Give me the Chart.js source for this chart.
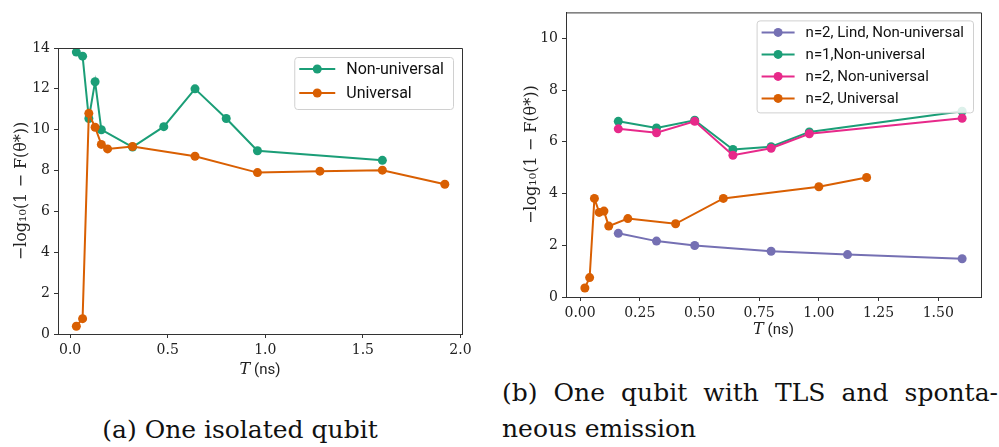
<!DOCTYPE html>
<html>
<head>
<meta charset="utf-8">
<script src="https://cdn.jsdelivr.net/npm/chart.js@4"></script>
<style>
  html,body{margin:0;padding:0;background:#fff;}
  body{width:999px;height:447px;position:relative;overflow:hidden;}
  canvas{position:absolute;}
  .cap{position:absolute;font-family:"DejaVu Serif","Liberation Serif",serif;font-size:25px;color:#111;line-height:36px;white-space:nowrap;}
  #capA{left:0;width:480px;top:412px;text-align:center;}
  #capB1{left:502px;width:496px;top:375px;text-align:justify;text-align-last:justify;}
  #capB2{left:502px;top:411px;}
</style>
</head>
<body>
<canvas id="chartA" width="490" height="380" style="left:0;top:0"></canvas>
<canvas id="chartB" width="499" height="340" style="left:500px;top:0"></canvas>
<div class="cap" id="capA">(a) One isolated qubit</div>
<div class="cap" id="capB1">(b) One qubit with TLS and sponta-</div>
<div class="cap" id="capB2">neous emission</div>
<script>
// (a) one isolated qubit
var T_A_NONUNI = [0.032,0.064,0.096,0.128,0.16,0.32,0.48,0.64,0.8,0.96,1.6];
var Y_A_NONUNI = [13.8,13.6,10.55,12.35,10.0,9.15,10.15,12.0,10.55,8.97,8.5];
var T_A_UNI = [0.032,0.064,0.096,0.128,0.16,0.192,0.32,0.64,0.96,1.28,1.6,1.92];
var Y_A_UNI = [0.38,0.75,10.8,10.12,9.28,9.06,9.18,8.7,7.9,7.97,8.02,7.33];
var XTICKS_A = [0,0.5,1,1.5,2];
var YTICKS_A = [0,2,4,6,8,10,12,14];

// (b) TLS + spontaneous emission
var T_B_LIND = [0.16,0.32,0.48,0.8,1.12,1.6];
var Y_B_LIND = [2.46,2.16,1.99,1.77,1.64,1.48];
var T_B_NONUNI = [0.16,0.32,0.48,0.64,0.8,0.96,1.6];
var Y_B_N1 = [6.79,6.53,6.83,5.70,5.81,6.38,7.18];
var Y_B_N2 = [6.50,6.35,6.79,5.48,5.75,6.31,6.91];
var T_B_UNI = [0.02,0.04,0.06,0.08,0.10,0.12,0.20,0.40,0.60,1.00,1.20];
var Y_B_UNI = [0.35,0.75,3.81,3.27,3.32,2.74,3.03,2.83,3.81,4.26,4.62];
var XTICKS_B = [0,0.25,0.5,0.75,1,1.25,1.5];
var YTICKS_B = [0,2,4,6,8,10];

var GREEN='#1b9e77', ORANGE='#d95f02', PURPLE='#7570b3', PINK='#e7298a';
var YLABEL='\u2212log\u2081\u2080(1 \u2212 F(\u03b8*))';
var AXC='#333';
var SERIF="'DejaVu Serif', 'Liberation Serif', serif";
var SANS="Roboto, 'Open Sans', sans-serif";

function pts(xs,ys){ return xs.map(function(x,i){return {x:x,y:ys[i]};}); }
function ds(label,xs,ys,col,order){
  return {label:label,data:pts(xs,ys),borderColor:col,backgroundColor:col,borderWidth:2,
    pointRadius:4.5,pointBorderWidth:0,pointBackgroundColor:col,tension:0,order:order};
}

// frame on top/right + x title with mixed fonts + matplotlib style legend
var mplDeco = {
  id:'mplDeco',
  afterDraw:function(chart,args,o){
    var ctx=chart.ctx, a=chart.chartArea;
    ctx.save();
    ctx.strokeStyle=AXC; ctx.lineWidth=1;
    ctx.beginPath();
    ctx.moveTo(a.left,a.top+0.5); ctx.lineTo(a.right+0.5,a.top+0.5); ctx.lineTo(a.right+0.5,a.bottom);
    ctx.stroke();

    // x title: italic T + (ns)
    var cx=(a.left+a.right)/2, ty=a.bottom+o.titleOff;
    ctx.fillStyle='#222'; ctx.textBaseline='middle';
    var fT='italic 16px '+SERIF, fN='15px '+SANS;
    ctx.font=fT; var w1=ctx.measureText('T').width;
    ctx.font=fN; var w2=ctx.measureText(' (ns)').width;
    var x0=cx-(w1+w2)/2;
    ctx.textAlign='left';
    ctx.font=fT; ctx.fillText('T',x0,ty);
    ctx.font=fN; ctx.fillText(' (ns)',x0+w1,ty);

    // legend
    var sets=chart.data.datasets;
    ctx.font=o.fs+'px '+SANS;
    var tw=0; sets.forEach(function(d){tw=Math.max(tw,ctx.measureText(d.label).width);});
    var bw=5+o.lineLen+11+tw+9, bh=o.first+o.rowH*(sets.length-1)+o.last;
    var bx=a.right-o.inset-bw, by=a.top+o.inset;
    ctx.fillStyle='rgba(255,255,255,0.85)'; ctx.strokeStyle='#d0d0d0'; ctx.lineWidth=1;
    ctx.beginPath();
    if(ctx.roundRect) ctx.roundRect(bx+0.5,by+0.5,bw,bh,3); else ctx.rect(bx+0.5,by+0.5,bw,bh);
    ctx.fill(); ctx.stroke();
    sets.forEach(function(d,i){
      var y=by+o.first+i*o.rowH;
      ctx.strokeStyle=d.borderColor; ctx.lineWidth=2;
      ctx.beginPath(); ctx.moveTo(bx+5,y); ctx.lineTo(bx+5+o.lineLen,y); ctx.stroke();
      ctx.fillStyle=d.borderColor;
      ctx.beginPath(); ctx.arc(bx+5+o.lineLen/2,y,4.5,0,Math.PI*2); ctx.fill();
      ctx.fillStyle='#111'; ctx.textAlign='left'; ctx.textBaseline='middle';
      ctx.fillText(d.label,bx+5+o.lineLen+11,y+1);
    });
    ctx.restore();
  }
};

function axes(xmin,xmax,ymin,ymax,xt,yt,xdec,yW,xH,yTitlePad){
  var tf={family:SERIF,size:14};
  return {
    x:{type:'linear',min:xmin,max:xmax,
      afterBuildTicks:function(s){s.ticks=xt.map(function(v){return {value:v};});},
      afterFit:function(s){s.height=xH;},
      grid:{drawOnChartArea:false,drawTicks:true,tickLength:4,color:AXC},
      border:{display:true,color:AXC,width:1},
      ticks:{maxRotation:0,autoSkip:false,padding:4,color:'#222',font:tf,
        callback:function(v){return Number(v).toFixed(xdec);}}},
    y:{type:'linear',min:ymin,max:ymax,
      afterBuildTicks:function(s){s.ticks=yt.map(function(v){return {value:v};});},
      afterFit:function(s){s.width=yW;},
      grid:{drawOnChartArea:false,drawTicks:true,tickLength:4,color:AXC},
      border:{display:true,color:AXC,width:1},
      ticks:{padding:4,color:'#222',font:tf,
        callback:function(v){return String(v);}},
      title:{display:true,text:YLABEL,color:'#222',padding:{top:yTitlePad,bottom:0},
        font:{family:SERIF,size:16}}}
  };
}

new Chart(document.getElementById('chartA'),{
  type:'line',
  data:{datasets:[
    ds('Non-universal',T_A_NONUNI,Y_A_NONUNI,GREEN,1),
    ds('Universal',T_A_UNI,Y_A_UNI,ORANGE,0)
  ]},
  plugins:[mplDeco],
  options:{responsive:false,animation:false,events:[],
    layout:{padding:{left:0,top:48,right:28,bottom:0}},
    plugins:{legend:{display:false},tooltip:{enabled:false},
      mplDeco:{titleOff:36,fs:16,lineLen:36,first:12,rowH:24,last:16,inset:9}},
    scales:axes(-0.062,2.008,0,14,XTICKS_A,YTICKS_A,1,58,46,12)}
});

new Chart(document.getElementById('chartB'),{
  type:'line',
  data:{datasets:[
    ds('n=2, Lind, Non-universal',T_B_LIND,Y_B_LIND,PURPLE,3),
    ds('n=1,Non-universal',T_B_NONUNI,Y_B_N1,GREEN,2),
    ds('n=2, Non-universal',T_B_NONUNI,Y_B_N2,PINK,1),
    ds('n=2, Universal',T_B_UNI,Y_B_UNI,ORANGE,0)
  ]},
  plugins:[mplDeco],
  options:{responsive:false,animation:false,events:[],
    layout:{padding:{left:0,top:6,right:18,bottom:0}},
    plugins:{legend:{display:false},tooltip:{enabled:false},
      mplDeco:{titleOff:33,fs:15,lineLen:33,first:12,rowH:22,last:14,inset:8}},
    scales:axes(-0.059,1.679,0,11,XTICKS_B,YTICKS_B,2,66,43,22)}
});
</script>
</body>
</html>
